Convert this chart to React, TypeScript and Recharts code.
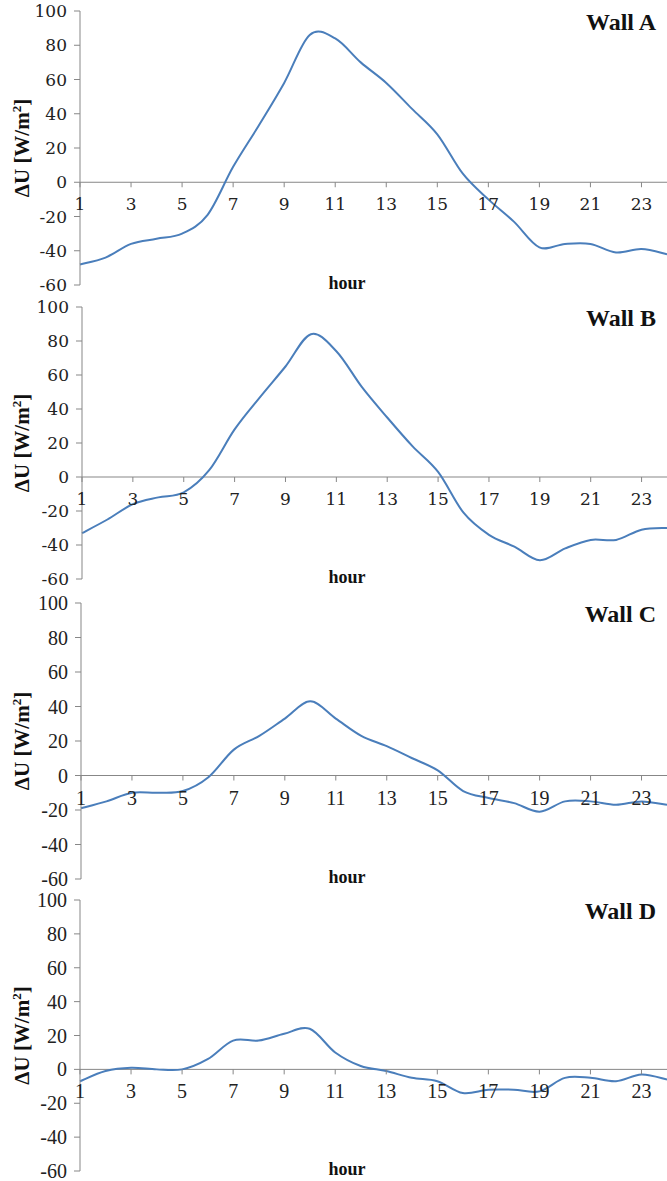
import React from "react";
import { LineChart, Line, XAxis, YAxis, ReferenceLine } from "recharts";

const hours = [
  1, 2, 3, 4, 5, 6, 7, 8, 9, 10, 11, 12, 13, 14, 15, 16, 17, 18, 19, 20, 21, 22, 23, 24,
];
const wallA = [
  -48, -44, -36, -33, -30, -19, 9, 33, 58, 86, 84, 70, 58, 43, 28, 5, -10, -23, -38, -36, -36, -41, -39, -42,
];
const wallB = [
  -33, -25, -16, -12, -9, 4, 28, 47, 65, 84, 74, 53, 35, 18, 3, -21, -34, -41, -49, -42, -37, -37, -31, -30,
];
const wallC = [
  -19, -15, -10, -10, -9, -1, 15, 23, 33, 43, 33, 23, 17, 10, 3, -9, -13, -16, -21, -15, -15, -17, -15, -17,
];
const wallD = [
  -7, -1, 1, 0, 0, 6, 17, 17, 21, 24, 10, 2, -1, -5, -7, -14, -12, -12, -13, -5, -5, -7, -3, -6,
];
const yTicks = [-60, -40, -20, 0, 20, 40, 60, 80, 100];

const LINE = "#4a7ebb";
const AXIS = "#878787";

// Excel-like smoothed line (Catmull-Rom as cubic beziers)
const smoothCurve = (context: any) => {
  let pts: number[][] = [];
  return {
    areaStart() {},
    areaEnd() {},
    lineStart() {
      pts = [];
    },
    point(x: number, y: number) {
      pts.push([+x, +y]);
    },
    lineEnd() {
      if (!pts.length) return;
      context.moveTo(pts[0][0], pts[0][1]);
      for (let i = 0; i < pts.length - 1; i++) {
        const p0 = pts[i - 1] || pts[i];
        const p1 = pts[i];
        const p2 = pts[i + 1];
        const p3 = pts[i + 2] || p2;
        context.bezierCurveTo(
          p1[0] + (p2[0] - p0[0]) / 6,
          p1[1] + (p2[1] - p0[1]) / 6,
          p2[0] - (p3[0] - p1[0]) / 6,
          p2[1] - (p3[1] - p1[1]) / 6,
          p2[0],
          p2[1]
        );
      }
    },
  };
};

type Panel = {
  title: string;
  values: number[];
  top: number;
  height: number;
  mTop: number;
  mBottom: number;
  axisX: number;
  font: string;
  fontSize: number;
};

// charts may overlap a few px; their backgrounds are transparent
const panels: Panel[] = [
  { title: "Wall A", values: wallA, top: 0, height: 296, mTop: 11, mBottom: 11, axisX: 80, font: "DejaVu Serif", fontSize: 17 },
  { title: "Wall B", values: wallB, top: 292, height: 300, mTop: 15, mBottom: 13, axisX: 82, font: "DejaVu Serif", fontSize: 17 },
  { title: "Wall C", values: wallC, top: 588, height: 304, mTop: 15, mBottom: 13, axisX: 81, font: "Liberation Serif", fontSize: 20 },
  { title: "Wall D", values: wallD, top: 884, height: 297, mTop: 16, mBottom: 10, axisX: 80, font: "Liberation Serif", fontSize: 20 },
];

const W = 667;

function WallChart({ p }: { p: Panel }) {
  const data = hours.map((h, i) => ({ hour: h, value: p.values[i] }));
  const plotH = p.height - p.mTop - p.mBottom;
  const zeroY = p.mTop + (plotH * 100) / 160;
  const midY = p.mTop + plotH / 2;
  const txt = { fontFamily: p.font, fontSize: p.fontSize };

  const xTick = (props: any) => {
    const { x, payload } = props;
    return (
      <g>
        <line x1={x} y1={zeroY} x2={x} y2={zeroY + 5} stroke={AXIS} />
        <text x={x} y={zeroY + 22} textAnchor="middle" dominantBaseline="central" fill="#222" style={txt}>
          {payload.value}
        </text>
      </g>
    );
  };

  const yTick = (props: any) => {
    const { x, y, payload } = props;
    return (
      <text x={x} y={y} textAnchor="end" dominantBaseline="central" fill="#222" style={txt}>
        {payload.value}
      </text>
    );
  };

  return (
    <div style={{ position: "absolute", left: 0, top: p.top, width: W, height: p.height }}>
      <LineChart
        width={W}
        height={p.height}
        data={data}
        margin={{ top: p.mTop, right: 0, bottom: p.mBottom - 1, left: 0 }}
      >
        <XAxis
          dataKey="hour"
          height={1}
          interval={1}
          axisLine={false}
          tickLine={false}
          tickSize={0}
          tick={xTick}
        />
        <YAxis
          width={p.axisX}
          domain={[-60, 100]}
          ticks={yTicks}
          interval={0}
          stroke={AXIS}
          tickSize={6}
          tickMargin={7}
          tick={yTick}
          label={{
            content: () => (
              <text
                transform={`translate(29, ${midY}) rotate(-90)`}
                textAnchor="middle"
                fill="#111"
                style={{ fontFamily: "Liberation Serif", fontWeight: "bold", fontSize: 21 }}
              >
                <tspan>ΔU [W/m</tspan>
                <tspan fontSize={13} dy={-8}>2</tspan>
                <tspan dy={8}>]</tspan>
              </text>
            ),
          }}
        />
        <ReferenceLine y={0} stroke={AXIS} />
        <Line
          dataKey="value"
          type={smoothCurve as any}
          stroke={LINE}
          strokeWidth={2}
          dot={false}
          isAnimationActive={false}
        />
        <text
          x={656}
          y={p.mTop + 19}
          textAnchor="end"
          fill="#111"
          style={{ fontFamily: "Liberation Serif", fontWeight: "bold", fontSize: 24 }}
        >
          {p.title}
        </text>
        <text
          x={347}
          y={p.mTop + plotH + 4}
          textAnchor="middle"
          fill="#111"
          style={{ fontFamily: "Liberation Serif", fontWeight: "bold", fontSize: 18 }}
        >
          hour
        </text>
      </LineChart>
    </div>
  );
}

export default function App() {
  return (
    <div
      style={{
        position: "absolute",
        left: 0,
        top: 0,
        width: W,
        height: 1181,
        background: "#fff",
        overflow: "hidden",
      }}
    >
      {panels.map((p) => (
        <WallChart key={p.title} p={p} />
      ))}
    </div>
  );
}
